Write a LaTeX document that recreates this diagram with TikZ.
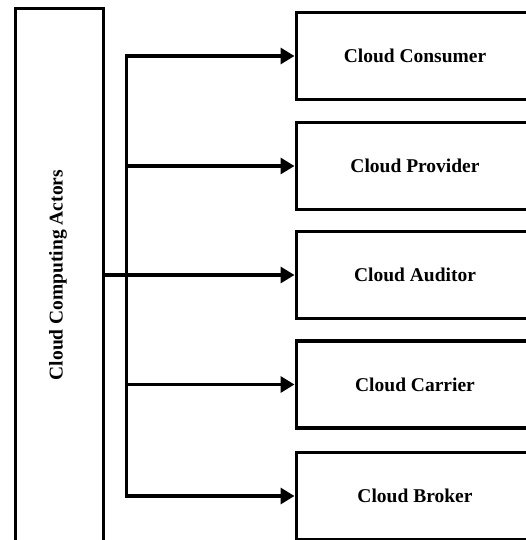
\documentclass[tikz,border=0pt]{standalone}
\usepackage{fontspec}
\setmainfont{Liberation Serif}
\usetikzlibrary{arrows.meta}
\begin{document}
\begin{tikzpicture}[x=1pt,y=1pt,
  lw/.style={line width=3.3pt},
  lbl/.style={font=\fontsize{19.5}{22}\selectfont\bfseries},
  actorbox/.style={lw, draw, minimum width=236pt, minimum height=87pt, inner sep=0pt, anchor=west},
  mainbox/.style={lw, draw, minimum width=88pt, minimum height=533.5pt, inner sep=0pt},
  tip/.style={Triangle[length=14pt,width=16pt]},
  arr/.style={lw, -{Triangle[length=14pt,width=16pt]}},
  biarr/.style={lw, {Triangle[length=14pt,width=16pt]}-{Triangle[length=14pt,width=16pt]}, line join=miter}]
\useasboundingbox (0,0) rectangle (526,-540);
\node[mainbox] (actors) at (59.5,-275.25) {};
\node[rotate=90, lbl] (actlabel) at (58,-275) {Cloud Computing Actors};
\node[actorbox] (c1) at (294.5,-56) {};
\node[actorbox] (c2) at (294.5,-166) {};
\node[actorbox] (c3) at (294.5,-275) {};
\node[actorbox] (c4) at (294.5,-384.5) {};
\node[actorbox] (c5) at (294.5,-496) {};
\node[lbl] (t1) at (415,-56) {Cloud Consumer};
\node[lbl] (t2) at (415,-166) {Cloud Provider};
\node[lbl] (t3) at (415,-275) {Cloud Auditor};
\node[lbl] (t4) at (415,-384.5) {Cloud Carrier};
\node[lbl] (t5) at (415,-496) {Cloud Broker};
\coordinate (busx) at (126.5,0);
\coordinate (b1) at (c1.west -| busx);
\coordinate (b2) at (c2.west -| busx);
\coordinate (b4) at (c4.west -| busx);
\coordinate (b5) at (c5.west -| busx);
\draw[biarr] (c1.west) -- (b1) -- (b5) -- (c5.west);
\draw[arr] (b2) -- (c2.west);
\draw[arr] (b4) -- (c4.west);
\draw[arr] (actors.east |- c3.west) -- (c3.west);
\end{tikzpicture}
\end{document}
